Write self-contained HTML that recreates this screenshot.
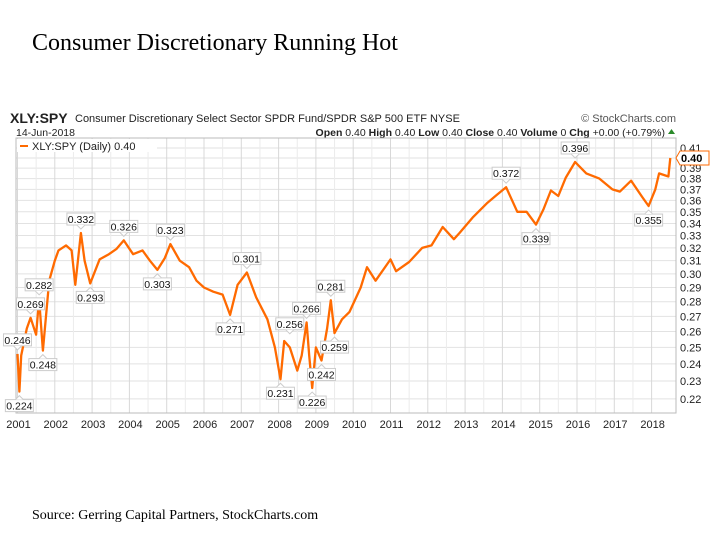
<!DOCTYPE html>
<html><head><meta charset="utf-8"><style>
body{margin:0;background:#fff;width:720px;height:540px;overflow:hidden;position:relative;font-family:"Liberation Sans",sans-serif}
#title{position:absolute;left:32px;top:30px;font-family:"Liberation Serif",serif;font-size:24px;color:#000}
#src{position:absolute;left:32px;top:508px;font-family:"Liberation Serif",serif;font-size:14px;color:#000}
</style></head><body>
<div id="title">Consumer Discretionary Running Hot</div>
<svg id="chart" width="720" height="540" style="position:absolute;left:0;top:0"></svg>
<div id="src">Source: Gerring Capital Partners, StockCharts.com</div>
<script>
const dates=[2001.0,2001.05,2001.1,2001.25,2001.35,2001.5,2001.58,2001.68,2001.85,2002.0,2002.1,2002.3,2002.45,2002.55,2002.62,2002.7,2002.8,2002.95,2003.2,2003.45,2003.65,2003.85,2004.1,2004.35,2004.55,2004.75,2004.95,2005.1,2005.35,2005.6,2005.8,2006.0,2006.25,2006.5,2006.7,2006.9,2007.15,2007.4,2007.7,2007.9,2008.05,2008.15,2008.3,2008.5,2008.62,2008.75,2008.82,2008.9,2009.0,2009.15,2009.3,2009.4,2009.5,2009.7,2009.9,2010.2,2010.37,2010.6,2011.0,2011.15,2011.5,2011.85,2012.1,2012.4,2012.7,2012.85,2013.2,2013.6,2013.85,2014.1,2014.4,2014.65,2014.9,2015.1,2015.3,2015.5,2015.7,2015.95,2016.25,2016.6,2016.95,2017.15,2017.45,2017.75,2017.92,2018.1,2018.2,2018.45,2018.5];
const values=[0.246,0.224,0.245,0.262,0.269,0.258,0.282,0.248,0.295,0.31,0.318,0.322,0.318,0.292,0.31,0.332,0.31,0.293,0.311,0.315,0.319,0.326,0.315,0.318,0.31,0.303,0.312,0.323,0.31,0.305,0.295,0.29,0.287,0.285,0.271,0.292,0.301,0.283,0.268,0.25,0.231,0.254,0.25,0.236,0.245,0.266,0.245,0.226,0.25,0.242,0.262,0.281,0.259,0.268,0.273,0.29,0.305,0.295,0.311,0.302,0.309,0.32,0.322,0.337,0.327,0.332,0.345,0.358,0.365,0.372,0.35,0.35,0.339,0.352,0.369,0.364,0.381,0.396,0.385,0.38,0.37,0.368,0.378,0.363,0.355,0.37,0.385,0.382,0.40];
const yTicks=[0.22,0.23,0.24,0.25,0.26,0.27,0.28,0.29,0.30,0.31,0.32,0.33,0.34,0.35,0.36,0.37,0.38,0.39,0.41];
const years=[2001,2002,2003,2004,2005,2006,2007,2008,2009,2010,2011,2012,2013,2014,2015,2016,2017,2018];
const annDates=[2001.0,2001.05,2001.35,2001.58,2001.68,2002.7,2002.95,2003.85,2004.75,2005.1,2006.7,2007.15,2008.05,2008.3,2008.75,2008.9,2009.15,2009.4,2009.5,2014.1,2014.9,2015.95,2017.92];
const annValues=[0.246,0.224,0.269,0.282,0.248,0.332,0.293,0.326,0.303,0.323,0.271,0.301,0.231,0.256,0.266,0.226,0.242,0.281,0.259,0.372,0.339,0.396,0.355];
const annAbove=[1,0,1,1,0,1,0,1,0,1,0,1,0,1,1,0,0,1,0,1,0,1,0];

const L=16,R=676,T=138,B=413;
const X=d=>17.5+(d-2001)*37.3;
const Y=v=>148-403*Math.log(v/0.41);
const svg=document.getElementById('chart');
const NS='http://www.w3.org/2000/svg';
function mk(t,a,p){const e=document.createElementNS(NS,t);for(const k in a)e.setAttribute(k,a[k]);(p||svg).appendChild(e);return e;}
let t=mk('text',{x:10,y:123,'font-size':14,'font-weight':'bold',fill:'#222'});t.textContent='XLY:SPY';

t=mk('text',{x:75,y:122,'font-size':11,fill:'#222'});t.textContent='Consumer Discretionary Select Sector SPDR Fund/SPDR S&P 500 ETF  NYSE';

t=mk('text',{x:676,y:122,'font-size':11,fill:'#555','text-anchor':'end'});t.textContent='© StockCharts.com';

t=mk('text',{x:16,y:136,'font-size':10.5,fill:'#222'});t.textContent='14-Jun-2018';

t=mk('text',{x:665,y:136,'font-size':10.5,fill:'#222','text-anchor':'end'});
t.innerHTML='<tspan font-weight="bold">Open</tspan> 0.40  <tspan font-weight="bold">High</tspan> 0.40  <tspan font-weight="bold">Low</tspan> 0.40  <tspan font-weight="bold">Close</tspan> 0.40  <tspan font-weight="bold">Volume</tspan> 0  <tspan font-weight="bold">Chg</tspan> +0.00 (+0.79%)';

let a=mk('path',{d:'M668 134 L675 134 L671.5 129 Z',fill:'#2a8a2a'});

yTicks.concat([0.40]).forEach(v=>{const g=mk('line',{x1:L,x2:R,y1:Y(v),y2:Y(v),stroke:'#e2e2e2'});
});
for(let y=2001;y<=2018;y++){const g=mk('line',{x1:X(y),x2:X(y),y1:T,y2:B,stroke:'#d8d8d8'});
}
for(let y=2001;y<=2018.4;y+=0.5){if(y%1){const g=mk('line',{x1:X(y),x2:X(y),y1:T,y2:B,stroke:'#ececec'});
}}
const fr=mk('rect',{x:L,y:T,width:R-L,height:B-T,fill:'none',stroke:'#bbb'});

yTicks.forEach(v=>{const e=mk('text',{x:680,y:Y(v)+4,'font-size':11,fill:'#222'});e.textContent=v.toFixed(2);
});
years.forEach(y=>{const e=mk('text',{x:X(y)+1,y:428,'font-size':11,fill:'#222','text-anchor':'middle'});e.textContent=y;
});
const pts=dates.map((d,i)=>X(d).toFixed(1)+','+Y(values[i]).toFixed(1)).join(' ');
const ln=mk('polyline',{points:pts,fill:'none',stroke:'#ff6a00','stroke-width':2.3,'stroke-linejoin':'round'});

const lv=values[values.length-1];
const tg=mk('path',{d:`M676 ${Y(lv)} l4 -7 h29 v14 h-29 z`,fill:'#fff',stroke:'#ff6a00'});

t=mk('text',{x:681,y:Y(lv)+4,'font-size':11,'font-weight':'bold',fill:'#000'});t.textContent=lv.toFixed(2);

const lb=mk('rect',{x:17,y:139,width:140,height:13,fill:'#fff'});

const ll=mk('line',{x1:20,x2:28,y1:146,y2:146,stroke:'#ff6a00','stroke-width':2});

t=mk('text',{x:32,y:150,'font-size':11,fill:'#222'});t.textContent='XLY:SPY (Daily) 0.40';

annDates.forEach((d,i)=>{const x=X(d),y=Y(annValues[i]);const up=annAbove[i];
const by=up?y-20:y+8;
const g=mk('g',{});


mk('rect',{x:x-14,y:by,width:28,height:12,fill:'#fff',stroke:'#ccc'},g);
mk('path',{d:up?`M${x-4} ${by+12} L${x} ${by+16} L${x+4} ${by+12}`:`M${x-4} ${by} L${x} ${by-4} L${x+4} ${by}`,fill:'#fff',stroke:'#ccc'},g);
const e=mk('text',{x:x,y:by+10,'font-size':10.5,fill:'#111','text-anchor':'middle'},g);e.textContent=annValues[i].toFixed(3);
});
</script>
</body></html>
